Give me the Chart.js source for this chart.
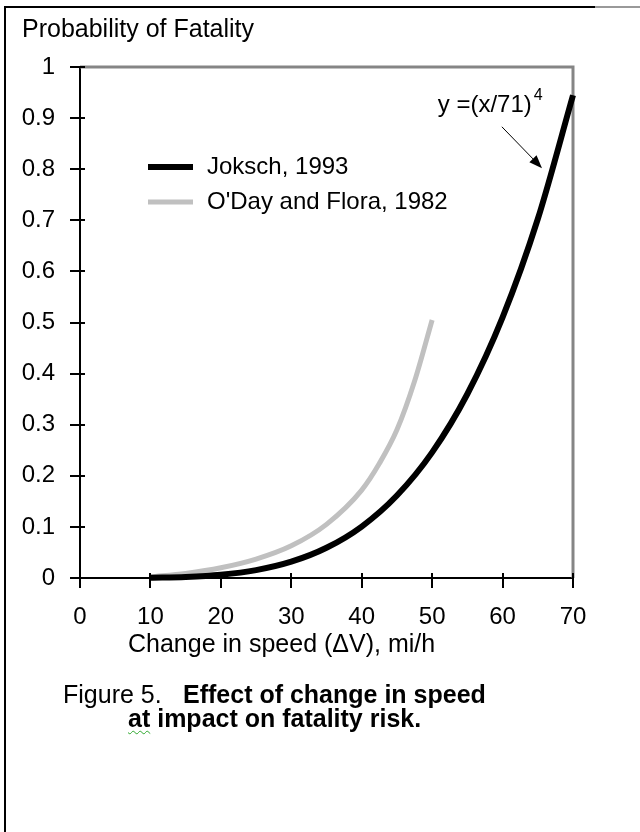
<!DOCTYPE html>
<html>
<head>
<meta charset="utf-8">
<title>Probability of Fatality</title>
<script src="https://cdn.jsdelivr.net/npm/chart.js@4.4.1/dist/chart.umd.min.js"></script>
<style>
    body { margin: 0; background: #fff; }
    #lienzo { position: relative; width: 640px; height: 832px; overflow: hidden; font-family: "Liberation Sans", Arial, sans-serif; }
    #grafico { position: absolute; left: 0; top: 0; }
    .borde-sup { position: absolute; left: 4px; top: 6px; width: 591px; height: 2px; background: #000; }
    .borde-sup-gris { position: absolute; left: 595px; top: 6px; width: 45px; height: 2px; background: #999; }
    .borde-izq { position: absolute; left: 4px; top: 6px; width: 2px; height: 826px; background: #000; }
    .leyenda-fig { position: absolute; font-size: 25px; line-height: 25px; color: #000; white-space: nowrap; }
    .negrita { font-weight: bold; }
    .ortografia { text-decoration: underline wavy #2fa82f; text-decoration-thickness: 1px; text-underline-offset: 3px; }
</style>
</head>
<body>
<div id="lienzo">
    <div class="borde-sup"></div>
    <div class="borde-sup-gris"></div>
    <div class="borde-izq"></div>
    <canvas id="grafico" width="640" height="832"></canvas>
    <div class="leyenda-fig" style="left:63px; top:682px;">Figure 5.</div>
    <div class="leyenda-fig negrita" style="left:183px; top:682px;">Effect of change in speed</div>
    <div class="leyenda-fig negrita" style="left:128px; top:706px;"><span class="ortografia">at</span> impact on fatality risk.</div>
</div>
<script>
// datos
var VELOCIDAD_JOKSCH = [10, 15, 20, 25, 30, 35, 40, 45, 50, 55, 60, 65, 70];
var PROB_JOKSCH = [0.0004, 0.002, 0.0063, 0.0154, 0.0319, 0.0591, 0.1007, 0.1614, 0.2459, 0.3601, 0.5100, 0.7025, 0.9448];
var VELOCIDAD_ODAY = [10, 15, 20, 25, 30, 35, 40, 42.5, 45, 47.5, 50];
var PROB_ODAY = [0.002, 0.009, 0.02, 0.037, 0.063, 0.105, 0.172, 0.224, 0.29, 0.385, 0.505];
var SERIES = ['Joksch, 1993', "O'Day and Flora, 1982"];
var TICKS_X = [0, 10, 20, 30, 40, 50, 60, 70];
var TICKS_Y = [0, 0.1, 0.2, 0.3, 0.4, 0.5, 0.6, 0.7, 0.8, 0.9, 1];
var TITULO_Y = 'Probability of Fatality';
var TITULO_X = 'Change in speed (\u0394V), mi/h';
var FORMULA = 'y =(x/71)';
var FORMULA_EXP = '4';
var FORMULA_EN = {x: 50.8, y: 0.912};
var FLECHA_DESDE = {x: 59.9, y: 0.883};
var FLECHA_HASTA = {x: 65.6, y: 0.802};

var FUENTE = '"Liberation Sans", Arial, sans-serif';

function puntos(xs, ys) {
    var arr = [];
    for (var i = 0; i < xs.length; i++) {
        arr.push({x: xs[i], y: ys[i]});
    }
    return arr;
}

var marco = {
    id: 'marco',
    beforeDatasetsDraw: function (chart) {
        var ctx = chart.ctx;
        var a = chart.chartArea;
        ctx.save();
        ctx.strokeStyle = '#858585';
        ctx.lineWidth = 3;
        ctx.beginPath();
        ctx.moveTo(a.left, a.top);
        ctx.lineTo(a.right, a.top);
        ctx.lineTo(a.right, a.bottom);
        ctx.stroke();
        ctx.restore();
    },
    afterDraw: function (chart) {
        var ctx = chart.ctx;
        var a = chart.chartArea;
        var sx = chart.scales.x;
        var sy = chart.scales.y;
        ctx.save();
        // marcas que cruzan los ejes
        ctx.strokeStyle = '#000';
        ctx.lineWidth = 2;
        ctx.beginPath();
        for (var i = 0; i < TICKS_X.length; i++) {
            var px = Math.round(sx.getPixelForValue(TICKS_X[i]));
            ctx.moveTo(px, a.bottom - 5);
            ctx.lineTo(px, a.bottom + 10);
        }
        for (var j = 0; j < TICKS_Y.length; j++) {
            var py = Math.round(sy.getPixelForValue(TICKS_Y[j]));
            ctx.moveTo(a.left - 10, py);
            ctx.lineTo(a.left + 5, py);
        }
        ctx.stroke();

        // titulos de ejes
        ctx.fillStyle = '#000';
        ctx.font = '25px ' + FUENTE;
        ctx.textAlign = 'left';
        ctx.textBaseline = 'alphabetic';
        ctx.fillText(TITULO_Y, 22, a.top - 30);
        ctx.fillText(TITULO_X, 128, a.bottom + 74);

        // leyenda
        ctx.font = '24px ' + FUENTE;
        ctx.textBaseline = 'middle';
        for (var k = 0; k < chart.data.datasets.length; k++) {
            var ds = chart.data.datasets[k];
            var ly = a.top + 100 + k * 35;
            ctx.strokeStyle = ds.borderColor;
            ctx.lineWidth = ds.borderWidth;
            ctx.beginPath();
            ctx.moveTo(a.left + 68, ly);
            ctx.lineTo(a.left + 113, ly);
            ctx.stroke();
            ctx.fillText(ds.label, a.left + 127, ly);
        }

        // formula con flecha
        var fx = sx.getPixelForValue(FORMULA_EN.x);
        var fy = sy.getPixelForValue(FORMULA_EN.y);
        ctx.textBaseline = 'alphabetic';
        ctx.fillText(FORMULA, fx, fy);
        var w = ctx.measureText(FORMULA).width;
        ctx.font = '16px ' + FUENTE;
        ctx.fillText(FORMULA_EXP, fx + w + 2, fy - 12);

        var x1 = sx.getPixelForValue(FLECHA_DESDE.x);
        var y1 = sy.getPixelForValue(FLECHA_DESDE.y);
        var x2 = sx.getPixelForValue(FLECHA_HASTA.x);
        var y2 = sy.getPixelForValue(FLECHA_HASTA.y);
        var ang = Math.atan2(y2 - y1, x2 - x1);
        ctx.strokeStyle = '#000';
        ctx.lineWidth = 1;
        ctx.beginPath();
        ctx.moveTo(x1, y1);
        ctx.lineTo(x2 - 8 * Math.cos(ang), y2 - 8 * Math.sin(ang));
        ctx.stroke();
        ctx.beginPath();
        ctx.moveTo(x2, y2);
        ctx.lineTo(x2 - 13 * Math.cos(ang) + 5 * Math.sin(ang), y2 - 13 * Math.sin(ang) - 5 * Math.cos(ang));
        ctx.lineTo(x2 - 13 * Math.cos(ang) - 5 * Math.sin(ang), y2 - 13 * Math.sin(ang) + 5 * Math.cos(ang));
        ctx.closePath();
        ctx.fill();
        ctx.restore();
    }
};

var GRAFICO = new Chart(document.getElementById('grafico'), {
    type: 'line',
    data: {
        datasets: [{
            label: SERIES[0],
            data: puntos(VELOCIDAD_JOKSCH, PROB_JOKSCH),
            borderColor: '#000000',
            borderWidth: 6,
            pointRadius: 0,
            cubicInterpolationMode: 'monotone',
            fill: false,
            clip: 8
        }, {
            label: SERIES[1],
            data: puntos(VELOCIDAD_ODAY, PROB_ODAY),
            borderColor: '#c0c0c0',
            borderWidth: 5,
            pointRadius: 0,
            cubicInterpolationMode: 'monotone',
            fill: false,
            clip: 8
        }]
    },
    options: {
        responsive: false,
        animation: false,
        devicePixelRatio: 1,
        layout: {
            padding: {left: 0, top: 67, right: 67, bottom: 174}
        },
        plugins: {
            legend: {display: false},
            tooltip: {enabled: false}
        },
        scales: {
            x: {
                type: 'linear',
                min: 0,
                max: 70,
                afterFit: function (s) { s.height = 80; },
                afterBuildTicks: function (s) {
                    s.ticks = TICKS_X.map(function (v) { return {value: v}; });
                },
                grid: {display: true, drawOnChartArea: false, drawTicks: false},
                border: {display: true, color: '#000', width: 2},
                ticks: {
                    color: '#000',
                    padding: 25,
                    maxRotation: 0,
                    font: {family: FUENTE, size: 24}
                }
            },
            y: {
                type: 'linear',
                min: 0,
                max: 1,
                afterFit: function (s) { s.width = 80; },
                afterBuildTicks: function (s) {
                    s.ticks = TICKS_Y.map(function (v) { return {value: v}; });
                },
                grid: {display: true, drawOnChartArea: false, drawTicks: false},
                border: {display: true, color: '#000', width: 2},
                ticks: {
                    color: '#000',
                    padding: 25,
                    font: {family: FUENTE, size: 24},
                    callback: function (v) { return String(+v.toFixed(1)); }
                }
            }
        }
    },
    plugins: [marco]
});
</script>
</body>
</html>
